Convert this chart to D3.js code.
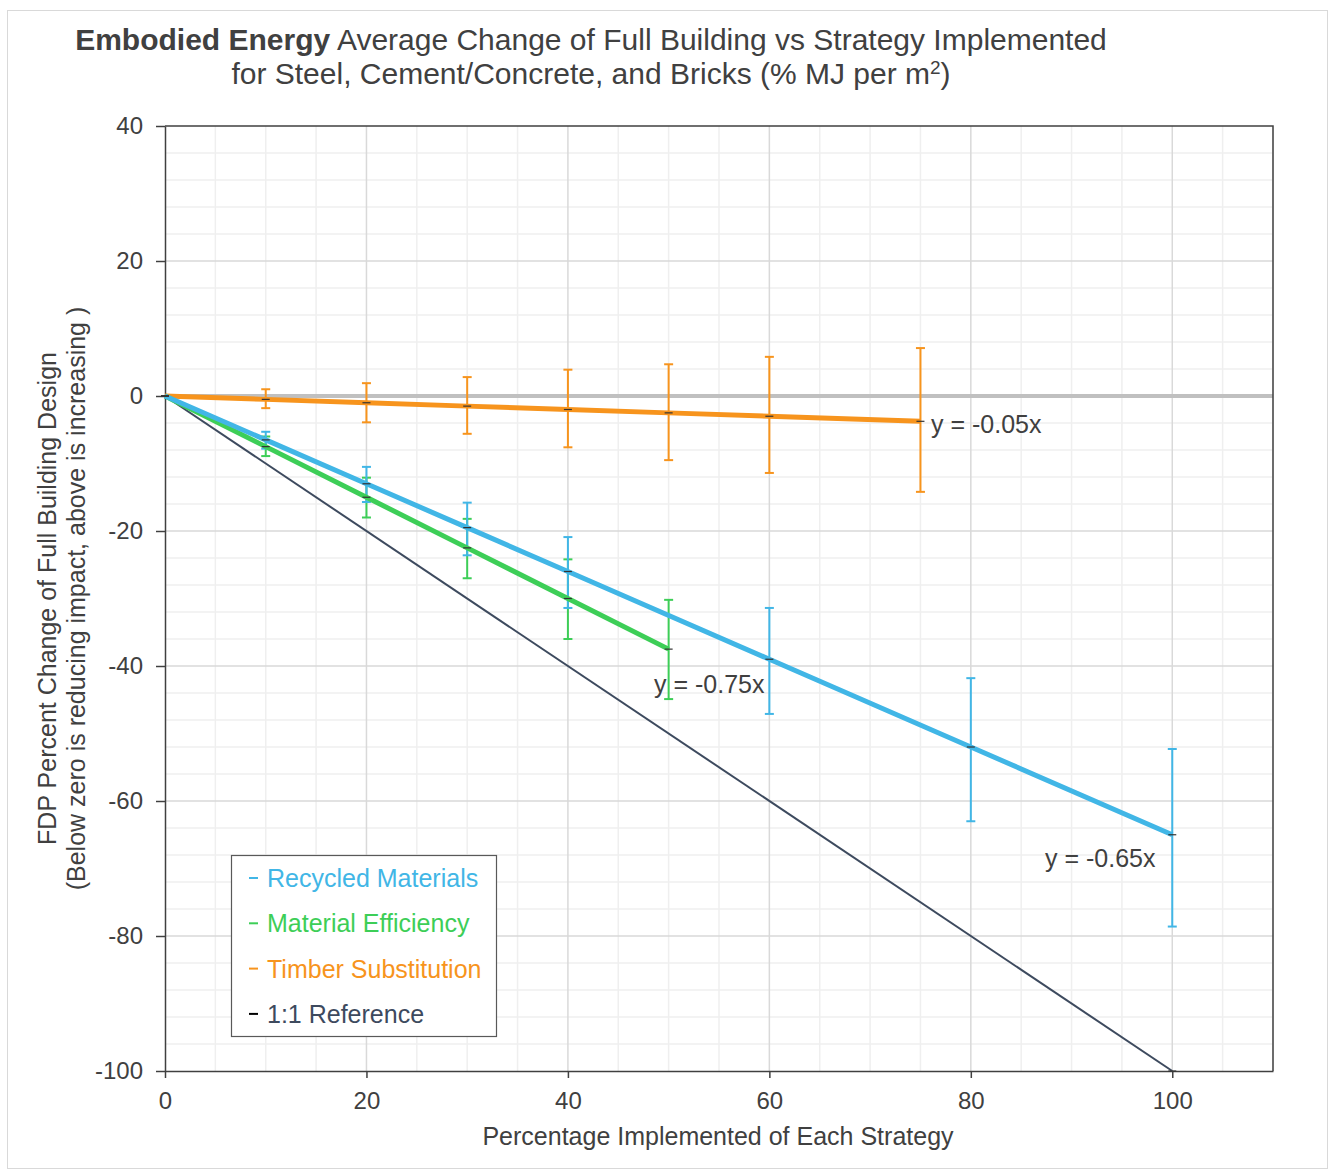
<!DOCTYPE html>
<html lang="en">
<head>
<meta charset="UTF-8">
<title>Embodied Energy</title>
<script src="https://d3js.org/d3.v7.min.js"></script>
<style>
  body { margin: 0; background: #fff; }
  svg { font-family: "Liberation Sans", Arial, sans-serif; }
</style>
</head>
<body>
<svg width="1328" height="1169"></svg>
<script>
// data
const xRecycled  = [0, 10, 20, 30, 40, 60, 80, 100];
const yRecycled  = [0, -6.5, -13, -19.5, -26, -39, -52, -65];
const hiRecycled = [null, -5.3, -10.5, -15.8, -20.9, -31.4, -41.8, -52.3];
const loRecycled = [null, -7.8, -15.7, -23.6, -31.4, -47.1, -63.0, -78.6];

const xEfficiency  = [0, 10, 20, 30, 40, 50];
const yEfficiency  = [0, -7.5, -15, -22.5, -30, -37.5];
const hiEfficiency = [null, -6.0, -12.1, -18.2, -24.2, -30.2];
const loEfficiency = [null, -8.9, -18.0, -27.0, -36.0, -44.9];

const xTimber  = [0, 10, 20, 30, 40, 50, 60, 75];
const yTimber  = [0, -0.5, -1, -1.5, -2, -2.5, -3, -3.75];
const hiTimber = [null, 1.0, 1.9, 2.8, 3.9, 4.7, 5.8, 7.1];
const loTimber = [null, -1.8, -3.9, -5.6, -7.6, -9.5, -11.4, -14.2];

const xReference = [0, 100];
const yReference = [0, -100];

const seriesNames = ["Recycled Materials", "Material Efficiency", "Timber Substitution", "1:1 Reference"];
const trendLabels = ["y = -0.65x", "y = -0.75x", "y = -0.05x"];
const xTicks = [0, 20, 40, 60, 80, 100];
const yTicks = [40, 20, 0, -20, -40, -60, -80, -100];

const svg = d3.select("svg");
const margin = {left: 165, right: 55, top: 126, bottom: 98};
const width = 1328, height = 1169;

const x = d3.scaleLinear().domain([0, 110]).range([margin.left, width - margin.right]);
const y = d3.scaleLinear().domain([-100, 40]).range([height - margin.bottom, margin.top]);

const textCol = "#404040";
const blue = "#41b6e6", green = "#3dce57", orange = "#f7941d", slate = "#3d4a5e";

// outer border
svg.append("rect")
    .attr("x", 7.5).attr("y", 10.5)
    .attr("width", 1320).attr("height", 1158)
    .attr("fill", "none").attr("stroke", "#d9d9d9");

// title
const title = svg.append("text")
    .attr("x", 591).attr("y", 50)
    .attr("text-anchor", "middle")
    .attr("font-size", 30).attr("fill", textCol);
title.append("tspan").attr("font-weight", "bold").text("Embodied Energy");
title.append("tspan").text(" Average Change of Full Building vs Strategy Implemented");
const title2 = svg.append("text")
    .attr("x", 591).attr("y", 84)
    .attr("text-anchor", "middle")
    .attr("font-size", 30).attr("fill", textCol);
title2.append("tspan").text("for Steel, Cement/Concrete, and Bricks (% MJ per m");
title2.append("tspan").attr("font-size", 19).attr("dy", -10).text("2");
title2.append("tspan").attr("dy", 10).text(")");

// grid
const grid = svg.append("g");
grid.selectAll("line.vminor")
    .data(d3.range(5, 111, 5).filter(d => d % 20 !== 0))
    .enter().append("line")
    .attr("x1", d => x(d)).attr("x2", d => x(d))
    .attr("y1", y(40)).attr("y2", y(-100))
    .attr("stroke", "#efefef").attr("stroke-width", 1.5);
grid.selectAll("line.hminor")
    .data(d3.range(-96, 40, 4).filter(d => d % 20 !== 0))
    .enter().append("line")
    .attr("y1", d => y(d)).attr("y2", d => y(d))
    .attr("x1", x(0)).attr("x2", x(110))
    .attr("stroke", "#efefef").attr("stroke-width", 1.5);
grid.selectAll("line.vmajor")
    .data([20, 40, 60, 80, 100])
    .enter().append("line")
    .attr("x1", d => x(d)).attr("x2", d => x(d))
    .attr("y1", y(40)).attr("y2", y(-100))
    .attr("stroke", "#d9d9d9").attr("stroke-width", 1.5);
grid.selectAll("line.hmajor")
    .data([20, -20, -40, -60, -80])
    .enter().append("line")
    .attr("y1", d => y(d)).attr("y2", d => y(d))
    .attr("x1", x(0)).attr("x2", x(110))
    .attr("stroke", "#d9d9d9").attr("stroke-width", 1.5);

// zero line
svg.append("line")
    .attr("x1", x(0)).attr("x2", x(110))
    .attr("y1", y(0)).attr("y2", y(0))
    .attr("stroke", "#c0c0c0").attr("stroke-width", 4);

// plot frame
svg.append("path")
    .attr("d", `M${x(0)},${y(40)}H${x(110)}V${y(-100)}`)
    .attr("fill", "none").attr("stroke", "#404040").attr("stroke-width", 1.5);

// axes
const xAxis = svg.append("g")
    .attr("transform", `translate(0,${y(-100)})`)
    .call(d3.axisBottom(x).tickValues(xTicks).tickFormat(d => String(d))
        .tickSize(7).tickSizeOuter(0).tickPadding(14));
const yAxis = svg.append("g")
    .attr("transform", `translate(${x(0)},0)`)
    .call(d3.axisLeft(y).tickValues(yTicks).tickFormat(d => String(d))
        .tickSize(9).tickSizeOuter(0).tickPadding(13));
[xAxis, yAxis].forEach(a => {
    a.select(".domain").attr("stroke", "#404040").attr("stroke-width", 1.5);
    a.selectAll(".tick line").attr("stroke", "#404040").attr("stroke-width", 1.5);
    a.selectAll(".tick text").attr("font-size", 24).attr("fill", textCol)
        .attr("font-family", "Liberation Sans, Arial, sans-serif");
});

// axis titles
svg.append("text")
    .attr("x", 718).attr("y", 1145)
    .attr("text-anchor", "middle")
    .attr("font-size", 25).attr("fill", textCol)
    .text("Percentage Implemented of Each Strategy");
const yt = svg.append("text")
    .attr("transform", `translate(56,${(y(40) + y(-100)) / 2}) rotate(-90)`)
    .attr("text-anchor", "middle")
    .attr("font-size", 25).attr("fill", textCol);
yt.append("tspan").attr("x", 0).attr("dy", 0).text("FDP Percent Change of Full Building Design");
yt.append("tspan").attr("x", 0).attr("dy", 29).text("(Below zero is reducing impact, above is increasing )");

// series
const series = [
    {xs: xTimber, ys: yTimber, hi: hiTimber, lo: loTimber, color: orange},
    {xs: xEfficiency, ys: yEfficiency, hi: hiEfficiency, lo: loEfficiency, color: green},
    {xs: xRecycled, ys: yRecycled, hi: hiRecycled, lo: loRecycled, color: blue}
];

// error bars
series.forEach(s => {
    const g = svg.append("g").attr("stroke", s.color).attr("stroke-width", 2);
    s.xs.forEach((xv, i) => {
        if (s.hi[i] === null) return;
        g.append("line")
            .attr("x1", x(xv)).attr("x2", x(xv))
            .attr("y1", y(s.hi[i])).attr("y2", y(s.lo[i]));
        [s.hi[i], s.lo[i]].forEach(v => {
            g.append("line")
                .attr("x1", x(xv) - 4.5).attr("x2", x(xv) + 4.5)
                .attr("y1", y(v)).attr("y2", y(v));
        });
    });
});

const line = d3.line().x(d => x(d[0])).y(d => y(d[1]));

// reference line
svg.append("path")
    .datum(d3.zip(xReference, yReference))
    .attr("d", line)
    .attr("fill", "none").attr("stroke", slate).attr("stroke-width", 2);

// series lines
series.forEach(s => {
    svg.append("path")
        .datum(d3.zip(s.xs, s.ys))
        .attr("d", line)
        .attr("fill", "none").attr("stroke", s.color).attr("stroke-width", 5);
});

// point markers
series.concat([{xs: xReference, ys: yReference}]).forEach(s => {
    svg.append("g").selectAll("line")
        .data(d3.zip(s.xs, s.ys))
        .enter().append("line")
        .attr("x1", d => x(d[0]) - 4).attr("x2", d => x(d[0]) + 4)
        .attr("y1", d => y(d[1])).attr("y2", d => y(d[1]))
        .attr("stroke", "#333").attr("stroke-width", 1.2);
});

// trendline equations
const eq = [
    {t: trendLabels[2], px: 931, py: 433},
    {t: trendLabels[1], px: 654, py: 693},
    {t: trendLabels[0], px: 1045, py: 867}
];
svg.selectAll("text.eq").data(eq).enter().append("text")
    .attr("class", "eq")
    .attr("x", d => d.px).attr("y", d => d.py)
    .attr("font-size", 25).attr("fill", textCol)
    .text(d => d.t);

// legend
const legend = svg.append("g").attr("transform", "translate(231,855)");
legend.append("rect")
    .attr("x", 0.5).attr("y", 0.5)
    .attr("width", 265).attr("height", 181)
    .attr("fill", "#fff").attr("stroke", "#595959").attr("stroke-width", 1.2);
const legendColors = [blue, green, orange, slate];
const dashColors = [blue, green, orange, "#000"];
seriesNames.forEach((name, i) => {
    const yy = 23 + i * 45.3;
    legend.append("line")
        .attr("x1", 18).attr("x2", 27)
        .attr("y1", yy).attr("y2", yy)
        .attr("stroke", dashColors[i]).attr("stroke-width", 2);
    legend.append("text")
        .attr("x", 36).attr("y", yy + 9)
        .attr("font-size", 25).attr("fill", legendColors[i])
        .text(name);
});
</script>
</body>
</html>
